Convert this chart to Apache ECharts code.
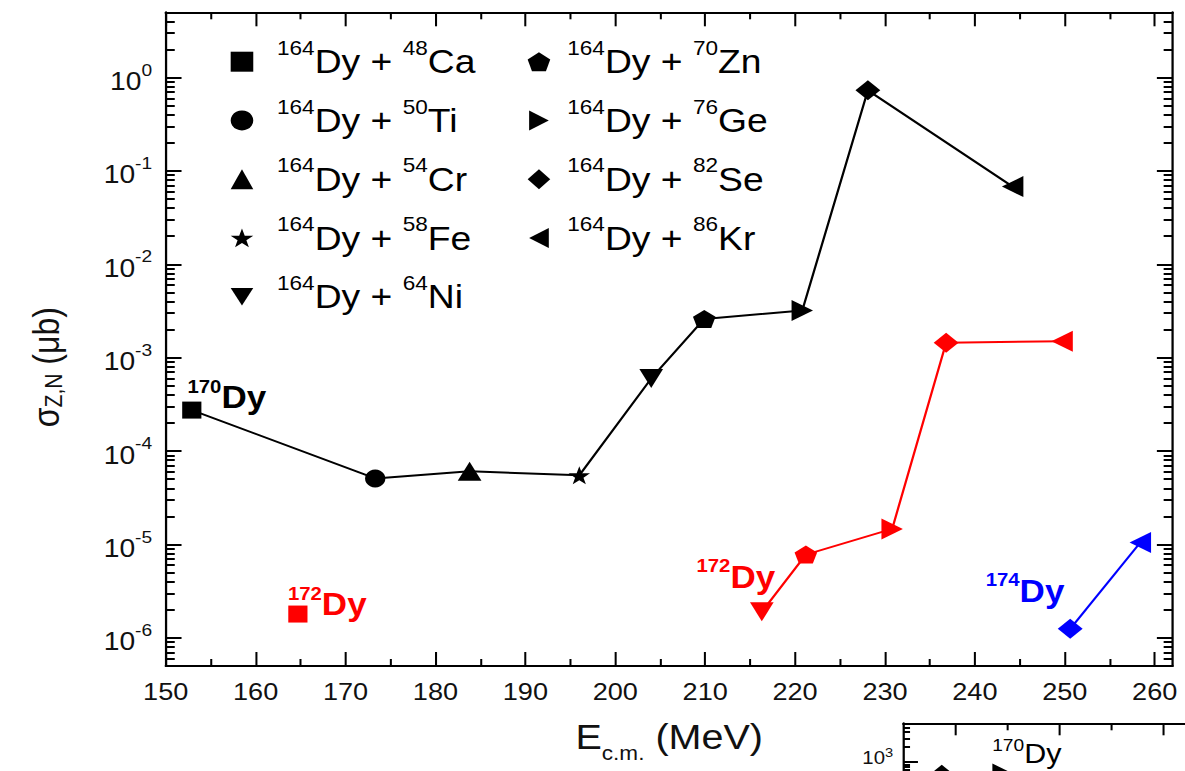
<!DOCTYPE html>
<html>
<head>
<meta charset="utf-8">
<title>Evaporation residue cross sections, 164Dy-based reactions</title>
<script src="https://cdn.jsdelivr.net/npm/echarts@6.0.0/dist/echarts.min.js"></script>
<style>
  html, body { margin: 0; padding: 0; background: #fff; overflow: hidden; }
  /* the figure is laid out 1049px wide and stretched horizontally to the page width */
  #chart { position: absolute; left: 0; top: 0; width: 1049px; height: 771px;
           transform: scaleX(1.129647); transform-origin: 0 0; }
</style>
</head>
<body>
<div id="chart"></div>
<script>
// ---- reactions: 164Dy target + projectile ----
const targetMass = '164';
const targetElem = 'Dy';
const projMass = ['48', '50', '54', '58', '64', '70', '76', '82', '86'];
const projElem = ['Ca', 'Ti', 'Cr', 'Fe', 'Ni', 'Zn', 'Ge', 'Se', 'Kr'];

// ---- E_c.m. (MeV) and sigma_Z,N (µb) per residue, indexed like the projectiles ----
const ecm170Dy   = [152.9, 173.3, 183.8, 196.0, 204.0, 209.9, 220.8, 228.1, 244.2];
const sigma170Dy = [2.75e-4, 5.1e-5, 6.1e-5, 5.5e-5, 6.0e-4, 2.6e-3, 3.2e-3, 0.73, 0.068];
const ecm172Dy   = [164.7, null, null, null, 216.3, 221.2, 230.8, 236.8, 249.7];
const sigma172Dy = [1.8e-6, null, null, null, 1.9e-6, 7.8e-6, 1.47e-5, 1.45e-3, 1.5e-3];
const ecm174Dy   = [null, null, null, null, null, null, null, 250.6, 258.4];
const sigma174Dy = [null, null, null, null, null, null, null, 1.25e-6, 1.05e-5];

// ---- lower panel (170Dy) ----
const insetEcm   = [148.7, 154.6];
const insetSigma = [560, 580];
const insetProj  = [7, 6];          // 82Se, 76Ge

// ---- tick values ----
const xTicks       = [150, 160, 170, 180, 190, 200, 210, 220, 230, 240, 250, 260];
const xMinorTicks  = [155, 165, 175, 185, 195, 205, 215, 225, 235, 245, 255];
const yTicks       = [1e-6, 1e-5, 1e-4, 1e-3, 1e-2, 1e-1, 1];
const insetXTicks  = [150, 160, 170, 180];
const insetXMinor  = [155, 165, 175];
const insetYTicks  = [1, 10, 100, 1000];
const insetYLabels = [1000];

const FONT = "'Liberation Sans', Arial, Helvetica, sans-serif";

// 2..9 x 10^n between lo and hi
function logMinor(lo, hi) {
  const out = [];
  for (let e = Math.floor(Math.log10(lo)); e <= Math.ceil(Math.log10(hi)); e++) {
    for (let k = 2; k <= 9; k++) {
      const v = +(k * Math.pow(10, e)).toPrecision(6);
      if (v >= lo * 0.999 && v <= hi * 1.001) out.push(v);
    }
  }
  return out;
}

// marker shapes per projectile
const STAR  = 'path://M50,0L61.8,35.1L98.1,35.1L68.8,56.7L79.4,90.5L50,69.5L20.6,90.5L31.2,56.7L1.9,35.1L38.2,35.1Z';
const PENT  = 'path://M50,0L97.6,34.5L79.4,90.5L20.6,90.5L2.4,34.5Z';
const DOWN  = 'path://M0,0L100,0L50,87Z';
const RIGHT = 'path://M0,0L87,50L0,100Z';
const LEFT  = 'path://M87,0L0,50L87,100Z';
const SYMBOLS = ['rect', 'circle', 'triangle', STAR, DOWN, PENT, RIGHT, 'diamond', LEFT];
const SIZES = [[17, 17], [18, 18], [21, 19], [19, 18], [21, 19], [20, 18], [19, 21], [22, 20], [19, 21]];

const groups = [
  { mass: '170', ecm: ecm170Dy, sigma: sigma170Dy, color: '#000000' },
  { mass: '172', ecm: ecm172Dy, sigma: sigma172Dy, color: '#ff0000' },
  { mass: '174', ecm: ecm174Dy, sigma: sigma174Dy, color: '#0000ff' }
];

// residue tags: which point carries the tag and where the tag sits relative to it
const tagAt = { '170:0': [31, -13], '172:0': [26, -10], '172:4': [-23, -35], '174:7': [-40, -38] };

function reactionName(i) { return targetMass + targetElem + ' + ' + projMass[i] + projElem[i]; }

function tagRich(color, bold, big, small, raise) {
  return {
    n: { fontFamily: FONT, fontWeight: bold ? 'bold' : 'normal', fontSize: small, lineHeight: small,
         padding: [0, 0, raise * 2, 0], color: color },
    d: { fontFamily: FONT, fontWeight: bold ? 'bold' : 'normal', fontSize: big, lineHeight: big + 3, color: color }
  };
}

// connecting lines, one per residue
const lineSeries = groups.map(g => ({
  type: 'line', name: g.mass + 'Dy', xAxisIndex: 0, yAxisIndex: 0, z: 2,
  symbol: 'none', showSymbol: false, connectNulls: false, silent: true,
  lineStyle: { color: g.color, width: 2 }, itemStyle: { color: g.color },
  data: g.ecm.map((e, i) => (e == null ? '-' : [e, g.sigma[i]]))
}));

// markers, one series per projectile
const markerSeries = projMass.map((m, i) => ({
  type: 'scatter', name: reactionName(i), xAxisIndex: 0, yAxisIndex: 0, z: 3,
  symbol: SYMBOLS[i], symbolSize: SIZES[i], silent: true,
  itemStyle: { color: '#000000', opacity: 1 },
  emphasis: { disabled: true },
  data: groups.filter(g => g.ecm[i] != null).map(g => {
    const item = { value: [g.ecm[i], g.sigma[i]], itemStyle: { color: g.color } };
    const off = tagAt[g.mass + ':' + i];
    if (off) {
      item.label = {
        show: true, position: 'inside', offset: off, color: g.color,
        formatter: '{n|' + g.mass + '}{d|' + targetElem + '}',
        rich: tagRich(g.color, true, 31, 18, 10.5)
      };
    }
    return item;
  })
}));

// lower panel series
const insetSeries = {
  type: 'line', name: 'inset170Dy', xAxisIndex: 4, yAxisIndex: 4, z: 3, silent: true,
  lineStyle: { color: '#000', width: 2 }, itemStyle: { color: '#000' },
  showSymbol: true,
  data: insetEcm.map((e, i) => {
    const item = { value: [e, insetSigma[i]], symbol: SYMBOLS[insetProj[i]], symbolSize: SIZES[insetProj[i]] };
    if (i === 1) {
      item.label = {
        show: true, position: 'inside', offset: [21, -20], color: '#000',
        formatter: '{n|170}{d|Dy}', rich: tagRich('#000', false, 27, 17, 9)
      };
    }
    return item;
  })
};

const LINE = { show: true, onZero: false, lineStyle: { color: '#000', width: 2 } };
const NOLINE = { show: false };
const NOLABEL = { show: false };
const NOSPLIT = { show: false };
function tick(vals, len, w) {
  return { show: true, inside: true, length: len, customValues: vals, lineStyle: { color: '#000', width: w } };
}
function powLabel(v) { return '{b|10}{s|' + Math.round(Math.log10(v)) + '}'; }

const legendRich = {
  m: { fontFamily: FONT, fontSize: 20, lineHeight: 20, padding: [0, 0, 27, 0], color: '#000' },
  b: { fontFamily: FONT, fontSize: 33, lineHeight: 36, color: '#000' }
};
function legendCfg(idx, left, gap) {
  return {
    show: true, orient: 'vertical', left: left, top: 33.2,
    itemWidth: 20, itemHeight: 20, itemGap: 11.75, selectedMode: false,
    data: idx.map(i => ({ name: reactionName(i) })),
    formatter: name => {
      const i = projMass.findIndex((m, k) => reactionName(k) === name);
      return '{m|' + targetMass + '}{b|' + targetElem + ' + }{m|' + projMass[i] + '}{b|' + projElem[i] + '}';
    },
    textStyle: { fontFamily: FONT, color: '#000', padding: [0, 0, 0, gap], rich: legendRich }
  };
}

const mainGrid = { left: 146.7, right: 10.9, top: 12.3, bottom: 105, containLabel: false, outerBoundsMode: 'none' };
const insetGrid = { left: 799.6, top: 723.3, width: 368.3, height: 200, containLabel: false, outerBoundsMode: 'none' };

const yMinorMain = logMinor(5e-7, 5);
const yMinorInset = logMinor(0.6, 6000);

const option = {
  animation: false,
  backgroundColor: '#ffffff',
  textStyle: { fontFamily: FONT },
  grid: [mainGrid, Object.assign({}, mainGrid), insetGrid, Object.assign({}, insetGrid)],
  legend: [legendCfg([0, 1, 2, 3, 4], 199.2, 16), legendCfg([5, 6, 7, 8], 462.1, 10)],
  xAxis: [
    {
      gridIndex: 0, type: 'value', position: 'bottom', min: 150, max: 262,
      axisLine: LINE, axisTick: tick(xTicks, 14, 1.8), splitLine: NOSPLIT,
      axisLabel: { show: true, customValues: xTicks, margin: 14, fontFamily: FONT, fontSize: 24, lineHeight: 24, color: '#111' },
      name: '{b|E}{sub|c.m.}{b| (MeV)}', nameLocation: 'middle', nameGap: 51,
      nameTextStyle: {
        rich: {
          b: { fontFamily: FONT, fontSize: 35, lineHeight: 40, color: '#111' },
          sub: { fontFamily: FONT, fontSize: 20, lineHeight: 20, padding: [32, 0, 0, 0], color: '#111' }
        }
      }
    },
    { gridIndex: 0, type: 'value', position: 'top', min: 150, max: 262,
      axisLine: LINE, axisTick: tick(xTicks, 14, 1.8), axisLabel: NOLABEL, splitLine: NOSPLIT },
    { gridIndex: 1, type: 'value', position: 'bottom', min: 150, max: 262,
      axisLine: NOLINE, axisTick: tick(xMinorTicks, 7, 1.8), axisLabel: NOLABEL, splitLine: NOSPLIT },
    { gridIndex: 1, type: 'value', position: 'top', min: 150, max: 262,
      axisLine: NOLINE, axisTick: tick(xMinorTicks, 7, 1.8), axisLabel: NOLABEL, splitLine: NOSPLIT },
    { gridIndex: 2, type: 'value', position: 'top', min: 145, max: 185,
      axisLine: LINE, axisTick: tick(insetXTicks, 12, 1.8), axisLabel: NOLABEL, splitLine: NOSPLIT },
    { gridIndex: 3, type: 'value', position: 'top', min: 145, max: 185,
      axisLine: NOLINE, axisTick: tick(insetXMinor, 7, 1.8), axisLabel: NOLABEL, splitLine: NOSPLIT }
  ],
  yAxis: [
    {
      gridIndex: 0, type: 'log', logBase: 10, position: 'left', min: 5e-7, max: 5,
      axisLine: LINE, axisTick: tick(yTicks, 14, 2), splitLine: NOSPLIT,
      axisLabel: {
        show: true, customValues: yTicks, margin: 12, formatter: powLabel, padding: [8, 0, 0, 0],
        rich: {
          b: { fontFamily: FONT, fontSize: 25, lineHeight: 28, color: '#111' },
          s: { fontFamily: FONT, fontSize: 17, lineHeight: 17, padding: [0, 0, 23, 0], color: '#111' }
        }
      },
      name: '{b|σ}{sub|Z,N}{b| (μb)}', nameLocation: 'middle', nameGap: 87.5,
      nameTextStyle: {
        padding: [0, 56, 0, 0],
        rich: {
          b: { fontFamily: FONT, fontSize: 32, lineHeight: 36, color: '#111' },
          sub: { fontFamily: FONT, fontSize: 21, lineHeight: 21, padding: [14, 0, 0, 0], color: '#111' }
        }
      }
    },
    { gridIndex: 0, type: 'log', logBase: 10, position: 'right', min: 5e-7, max: 5,
      axisLine: LINE, axisTick: tick(yTicks, 14, 2), axisLabel: NOLABEL, splitLine: NOSPLIT },
    { gridIndex: 1, type: 'log', logBase: 10, position: 'left', min: 5e-7, max: 5,
      axisLine: NOLINE, axisTick: tick(yMinorMain, 8, 2), axisLabel: NOLABEL, splitLine: NOSPLIT },
    { gridIndex: 1, type: 'log', logBase: 10, position: 'right', min: 5e-7, max: 5,
      axisLine: NOLINE, axisTick: tick(yMinorMain, 8, 2), axisLabel: NOLABEL, splitLine: NOSPLIT },
    {
      gridIndex: 2, type: 'log', logBase: 10, position: 'left', min: 0.6, max: 6000,
      axisLine: LINE, axisTick: tick(insetYTicks, 13, 2), splitLine: NOSPLIT,
      axisLabel: {
        show: true, customValues: insetYLabels, margin: 9, formatter: powLabel, padding: [0, 0, 8, 0],
        rich: {
          b: { fontFamily: FONT, fontSize: 18, lineHeight: 20, color: '#111' },
          s: { fontFamily: FONT, fontSize: 13, lineHeight: 13, padding: [0, 0, 12, 0], color: '#111' }
        }
      }
    },
    { gridIndex: 3, type: 'log', logBase: 10, position: 'left', min: 0.6, max: 6000,
      axisLine: NOLINE, axisTick: tick(yMinorInset, 6, 2), axisLabel: NOLABEL, splitLine: NOSPLIT }
  ],
  series: lineSeries.concat(markerSeries, [insetSeries])
};

const chart = echarts.init(document.getElementById('chart'), null, { renderer: 'svg', width: 1049, height: 771 });
chart.setOption(option);
</script>
</body>
</html>
